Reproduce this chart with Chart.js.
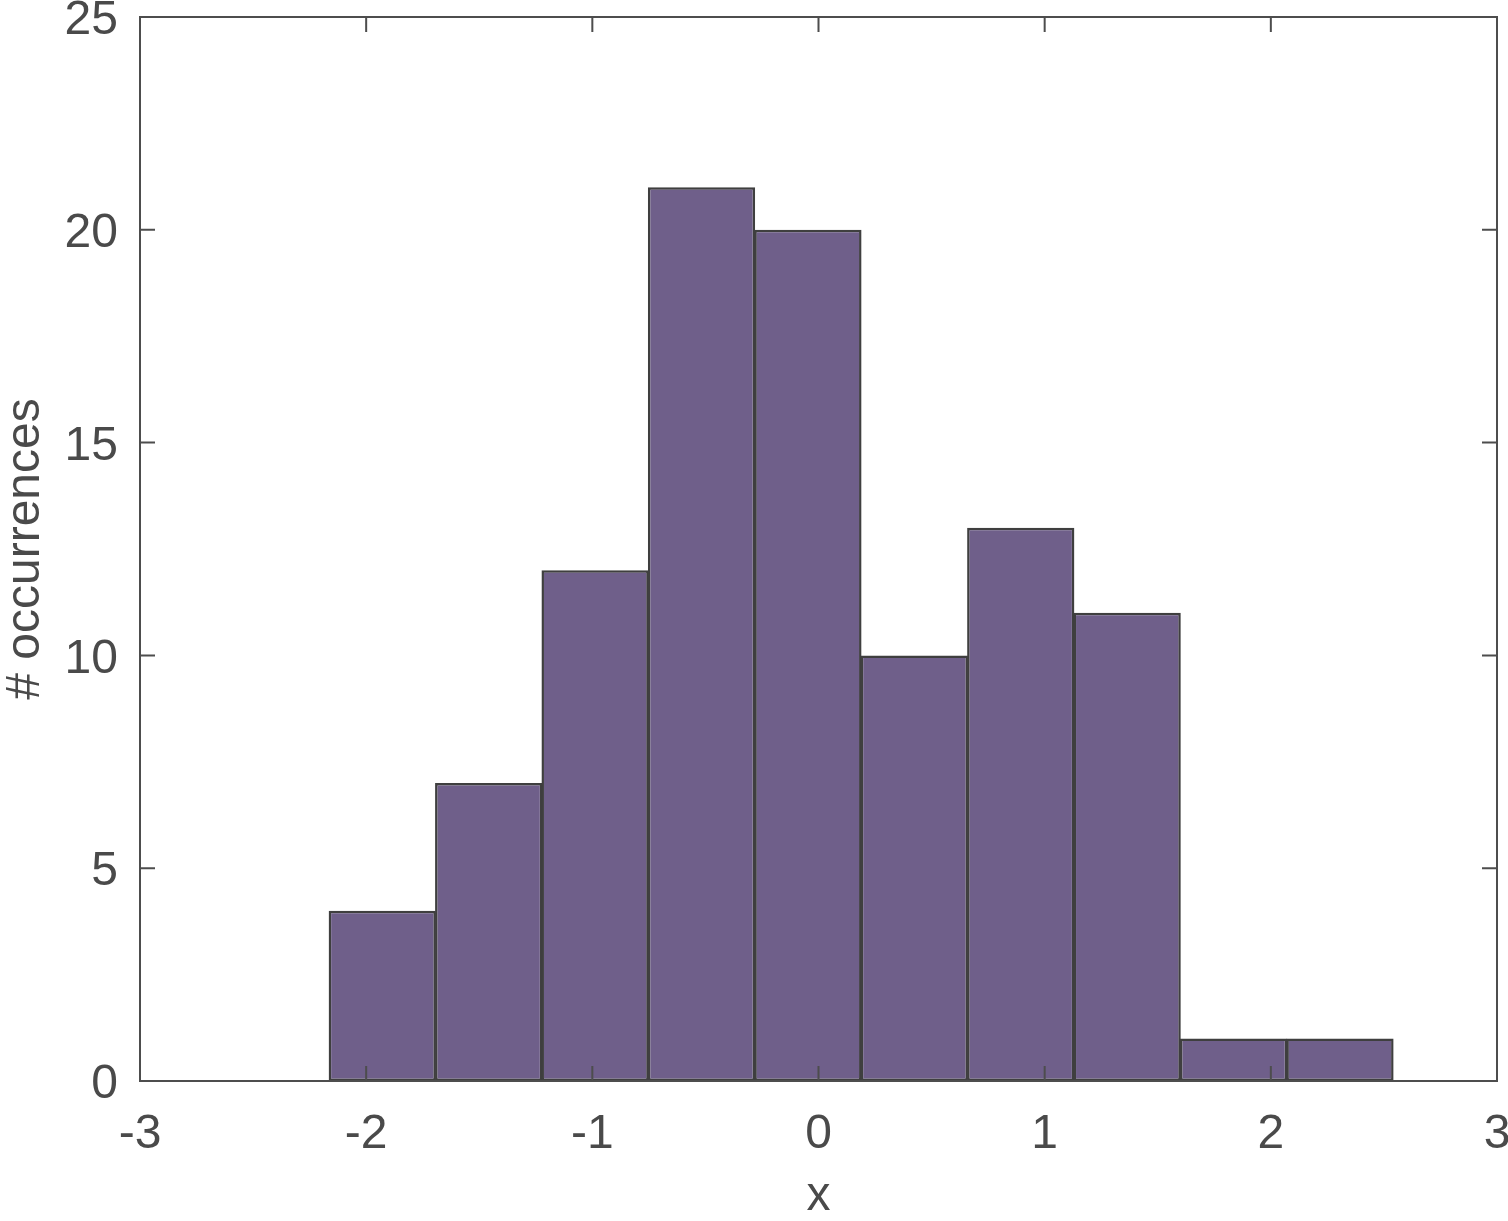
<!DOCTYPE html>
<html>
<head>
<meta charset="utf-8">
<script src="https://cdn.jsdelivr.net/npm/chart.js@4.4.0/dist/chart.umd.min.js"></script>
<style>
  html, body { margin: 0; padding: 0; background: #fff; }
  #wrap { width: 1508px; height: 1221px; }
</style>
</head>
<body>
<div id="wrap"><canvas id="hist" width="1508" height="1221"></canvas></div>
<script>
// histogram bins (edges) and counts
const binEdges = [-2.164, -1.6935, -1.223, -0.7525, -0.282, 0.1885, 0.659, 1.1295, 1.600, 2.0705, 2.541];
const counts = [4, 7, 12, 21, 20, 10, 13, 11, 1, 1];
const xTicks = [-3, -2, -1, 0, 1, 2, 3];
const yTicks = [0, 5, 10, 15, 20, 25];

const axisColor = '#4d4d4d';
const textColor = '#4a4a4a';

const points = counts.map((c, i) => ({ x: (binEdges[i] + binEdges[i + 1]) / 2, y: c }));

// box around the plot + inward tick marks on all four sides
const boxPlugin = {
  id: 'box',
  afterDraw(chart) {
    const ctx = chart.ctx;
    const a = chart.chartArea;
    const xs = chart.scales.x, ys = chart.scales.y;
    const len = 15;
    ctx.save();
    ctx.strokeStyle = axisColor;
    ctx.lineWidth = 2;
    ctx.strokeRect(a.left, a.top, a.right - a.left, a.bottom - a.top);
    ctx.beginPath();
    xTicks.forEach(v => {
      const px = xs.getPixelForValue(v);
      ctx.moveTo(px, a.bottom); ctx.lineTo(px, a.bottom - len);
      ctx.moveTo(px, a.top); ctx.lineTo(px, a.top + len);
    });
    yTicks.forEach(v => {
      const py = ys.getPixelForValue(v);
      ctx.moveTo(a.left, py); ctx.lineTo(a.left + len, py);
      ctx.moveTo(a.right, py); ctx.lineTo(a.right - len, py);
    });
    ctx.stroke();
    ctx.restore();
  }
};

const font = { family: '"Liberation Sans", Arial, sans-serif', size: 48 };

new Chart(document.getElementById('hist'), {
  type: 'bar',
  data: {
    datasets: [{
      data: points,
      backgroundColor: '#6f5f8a',
      borderColor: '#3f3f3f',
      borderWidth: 2.5,
      borderSkipped: false,
      barPercentage: 1.008,
      categoryPercentage: 1,
      grouped: false,
      inflateAmount: 0
    }]
  },
  options: {
    responsive: false,
    animation: false,
    events: [],
    layout: { padding: { top: 17, right: 11, left: 0, bottom: 0 } },
    plugins: { legend: { display: false }, tooltip: { enabled: false } },
    scales: {
      x: {
        type: 'linear',
        min: -3,
        max: 3,
        offset: false,
        afterFit(s) { s.height = 140; s.paddingLeft = 0; s.paddingRight = 0; },
        afterBuildTicks(s) { s.ticks = xTicks.map(v => ({ value: v })); },
        grid: { display: false, drawTicks: false },
        border: { display: false },
        ticks: { color: textColor, font: font, padding: 25, maxRotation: 0 },
        title: { display: true, text: 'x', color: textColor, font: Object.assign({}, font, { lineHeight: 1 }), padding: { top: -18, bottom: 0 } }
      },
      y: {
        min: 0,
        max: 25,
        afterFit(s) { s.width = 140; s.paddingTop = 0; s.paddingBottom = 0; },
        afterBuildTicks(s) { s.ticks = yTicks.map(v => ({ value: v })); },
        grid: { display: false, drawTicks: false },
        border: { display: false },
        ticks: { color: textColor, font: font, padding: 22, labelOffset: 4 },
        title: { display: true, text: '# occurrences', color: textColor, font: Object.assign({}, font, { lineHeight: 1 }), padding: { top: 2, bottom: 0 } }
      }
    }
  },
  plugins: [boxPlugin]
});
</script>
</body>
</html>
